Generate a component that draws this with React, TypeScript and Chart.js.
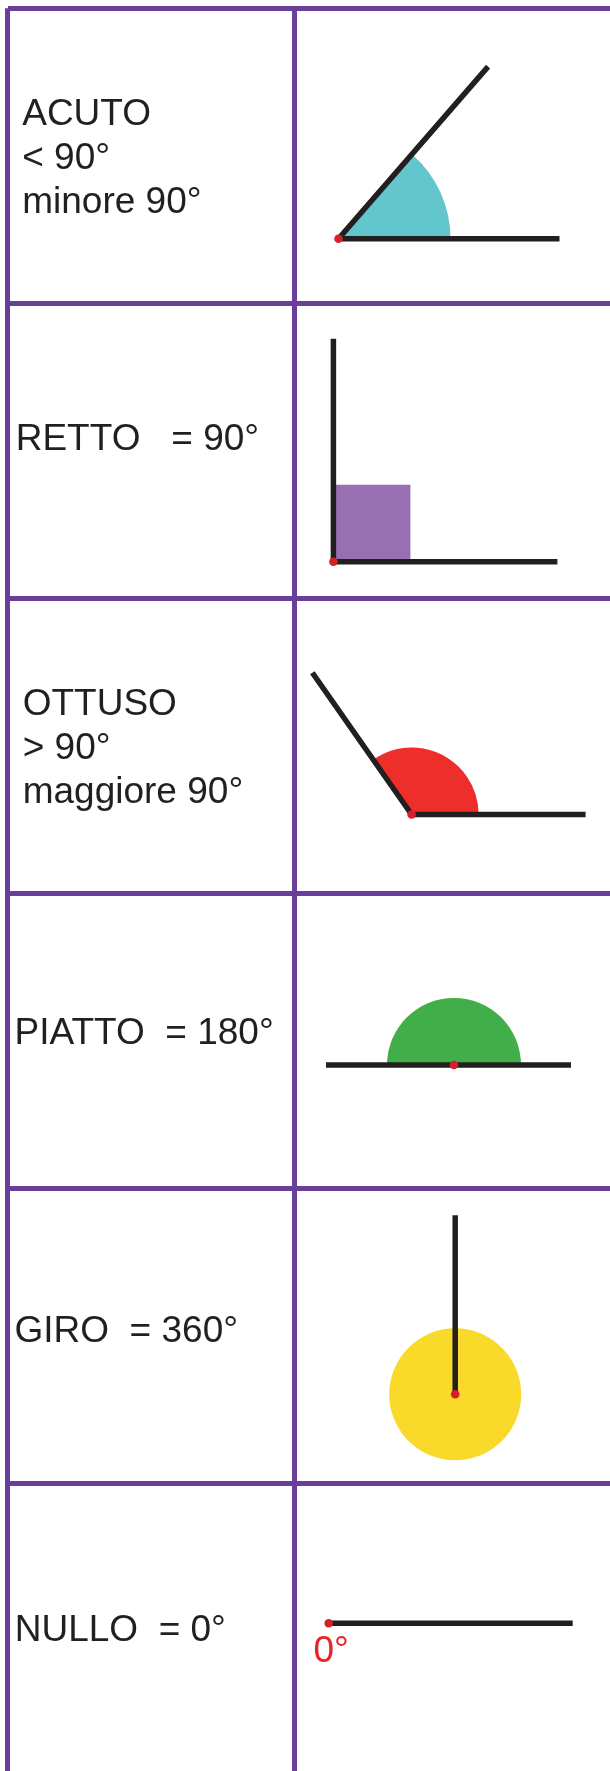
import React, { useEffect, useRef } from 'react';
import { Chart, registerables } from 'chart.js';

Chart.register(...registerables);

// ---------------- DATA ----------------
const angleNames = ['ACUTO', 'RETTO', 'OTTUSO', 'PIATTO', 'GIRO', 'NULLO'];
const angleDegrees = [49, 90, 125, 180, 360, 0];
const angleLabels: string[][] = [
  ['ACUTO', '< 90°', 'minore 90°'],
  ['RETTO   = 90°'],
  ['OTTUSO', '> 90°', 'maggiore 90°'],
  ['PIATTO  = 180°'],
  ['GIRO  = 360°'],
  ['NULLO  = 0°'],
];
const zeroMarkLabel = '0°';

// ---------------- LAYOUT (table units, 1 unit = 1 px) ----------------
const CANVAS_W = 610;
const CANVAS_H = 1771;
const TABLE_LEFT = 7.8;
const TABLE_TOP = 8.3;
const ROW_H = 295;
const COL1_W = 287;
const vertexX = [330.7, 325.6, 403.8, 446.2, 447.4, 320.9];
const vertexY = [230.4, 258.4, 216.2, 171.7, 206.0, 140.0]; // from the row's top line
const baseDir = [0, 0, 0, 0, 90, 0];
const baseRayLen = [221, 224, 174, 117, 179, 244];
const sideRayLen = [228, 223, 173, 128, 179, 244];
const markSize = [112, 77, 67, 67, 66, 0];
const labelX = [14.4, 7.9, 14.9, 6.7, 6.7, 6.9];
const labelBaseline = [116.7, 146.7, 116.7, 151, 154, 157.7];
const LINE_GAP = 44;
const ZERO_DX = -15.2;
const ZERO_DY = 38.4;

// ---------------- STYLE ----------------
const GRID_COLOR = '#6a3f99';
const GRID_WIDTH = 5;
const RAY_COLOR = '#231f20';
const RAY_WIDTH = 5.5;
const DOT_COLOR = '#d42029';
const DOT_RADIUS = 4.3;
const TEXT_COLOR = '#231f20';
const ZERO_COLOR = '#ec2227';
const FONT = '37px "Liberation Sans", Arial, sans-serif';
const markColors = ['#62c6cc', '#9670b0', '#ee2e2a', '#41ae4a', '#f9da2b', '#000000'];

const rad = (d: number) => (d * Math.PI) / 180;

function vertexOf(i: number) {
  return { x: vertexX[i], y: i * ROW_H + vertexY[i] };
}

function rayEnd(i: number, dirDeg: number, len: number) {
  const v = vertexOf(i);
  return { x: v.x + len * Math.cos(rad(dirDeg)), y: v.y - len * Math.sin(rad(dirDeg)) };
}

const angleMarksPlugin = {
  id: 'angleMarks',
  beforeDatasetsDraw(chart: any) {
    const { ctx, scales } = chart;
    const x = scales.x;
    const y = scales.y;
    const ux = x.getPixelForValue(1) - x.getPixelForValue(0);
    angleDegrees.forEach((deg, i) => {
      const size = markSize[i];
      if (!size) return;
      const v = vertexOf(i);
      const cx = x.getPixelForValue(v.x);
      const cy = y.getPixelForValue(v.y);
      const r = size * ux;
      ctx.save();
      ctx.fillStyle = markColors[i];
      ctx.beginPath();
      if (deg === 90) {
        ctx.rect(cx, cy - r, r, r);
      } else {
        const b = rad(baseDir[i]);
        const t = rad(deg);
        ctx.moveTo(cx, cy);
        ctx.arc(cx, cy, r, -(b + t), -b);
        ctx.closePath();
      }
      ctx.fill();
      ctx.restore();
    });
  },
  afterDatasetsDraw(chart: any) {
    const { ctx, scales } = chart;
    const x = scales.x;
    const y = scales.y;
    ctx.save();
    ctx.font = FONT;
    ctx.textAlign = 'left';
    ctx.textBaseline = 'alphabetic';
    ctx.fillStyle = TEXT_COLOR;
    angleLabels.forEach((lines, i) => {
      lines.forEach((line, j) => {
        ctx.fillText(
          line,
          x.getPixelForValue(labelX[i]),
          y.getPixelForValue(i * ROW_H + labelBaseline[i] + j * LINE_GAP)
        );
      });
    });
    const zi = angleDegrees.indexOf(0);
    if (zi >= 0) {
      const v = vertexOf(zi);
      ctx.fillStyle = ZERO_COLOR;
      ctx.fillText(zeroMarkLabel, x.getPixelForValue(v.x + ZERO_DX), y.getPixelForValue(v.y + ZERO_DY));
    }
    ctx.restore();
  },
};

export default function App() {
  const canvasRef = useRef<HTMLCanvasElement | null>(null);

  useEffect(() => {
    document.body.style.margin = '0';
    const canvas = canvasRef.current;
    if (!canvas) return;

    const rayDatasets = angleNames.map((name, i) => ({
      label: name,
      data: [
        rayEnd(i, baseDir[i], baseRayLen[i]),
        vertexOf(i),
        rayEnd(i, baseDir[i] + angleDegrees[i], sideRayLen[i]),
      ],
      showLine: true,
      borderColor: RAY_COLOR,
      borderWidth: RAY_WIDTH,
      borderJoinStyle: 'bevel' as const,
      borderCapStyle: 'butt' as const,
      pointRadius: 0,
      pointHoverRadius: 0,
      fill: false,
      tension: 0,
      order: 1,
    }));

    const dotDataset = {
      label: 'vertici',
      data: angleNames.map((_, i) => vertexOf(i)),
      showLine: false,
      pointRadius: DOT_RADIUS,
      pointHoverRadius: DOT_RADIUS,
      pointBackgroundColor: DOT_COLOR,
      backgroundColor: DOT_COLOR,
      borderWidth: 0,
      pointBorderWidth: 0,
      order: 0,
    };

    const chart = new Chart(canvas, {
      type: 'scatter',
      data: { datasets: [dotDataset as any, ...(rayDatasets as any[])] },
      plugins: [angleMarksPlugin],
      options: {
        animation: false,
        responsive: false,
        maintainAspectRatio: false,
        events: [],
        layout: {
          autoPadding: false,
          padding: { left: TABLE_LEFT, top: TABLE_TOP, right: 0, bottom: 0 },
        },
        plugins: { legend: { display: false }, tooltip: { enabled: false } },
        scales: {
          x: {
            type: 'linear',
            min: 0,
            max: CANVAS_W - TABLE_LEFT,
            ticks: { display: false },
            border: { display: false },
            grid: { color: GRID_COLOR, lineWidth: GRID_WIDTH, drawTicks: false },
            afterBuildTicks: (scale: any) => {
              scale.ticks = [{ value: 0 }, { value: COL1_W }];
            },
          },
          y: {
            type: 'linear',
            reverse: true,
            min: 0,
            max: CANVAS_H - TABLE_TOP,
            ticks: { display: false },
            border: { display: false },
            grid: { color: GRID_COLOR, lineWidth: GRID_WIDTH, drawTicks: false },
            afterBuildTicks: (scale: any) => {
              scale.ticks = angleNames.map((_, i) => ({ value: i * ROW_H }));
            },
          },
        },
      } as any,
    });

    return () => chart.destroy();
  }, []);

  return (
    <div style={{ position: 'absolute', left: 0, top: 0, width: CANVAS_W, height: CANVAS_H, background: '#ffffff' }}>
      <canvas ref={canvasRef} width={CANVAS_W} height={CANVAS_H} style={{ display: 'block' }} />
    </div>
  );
}
